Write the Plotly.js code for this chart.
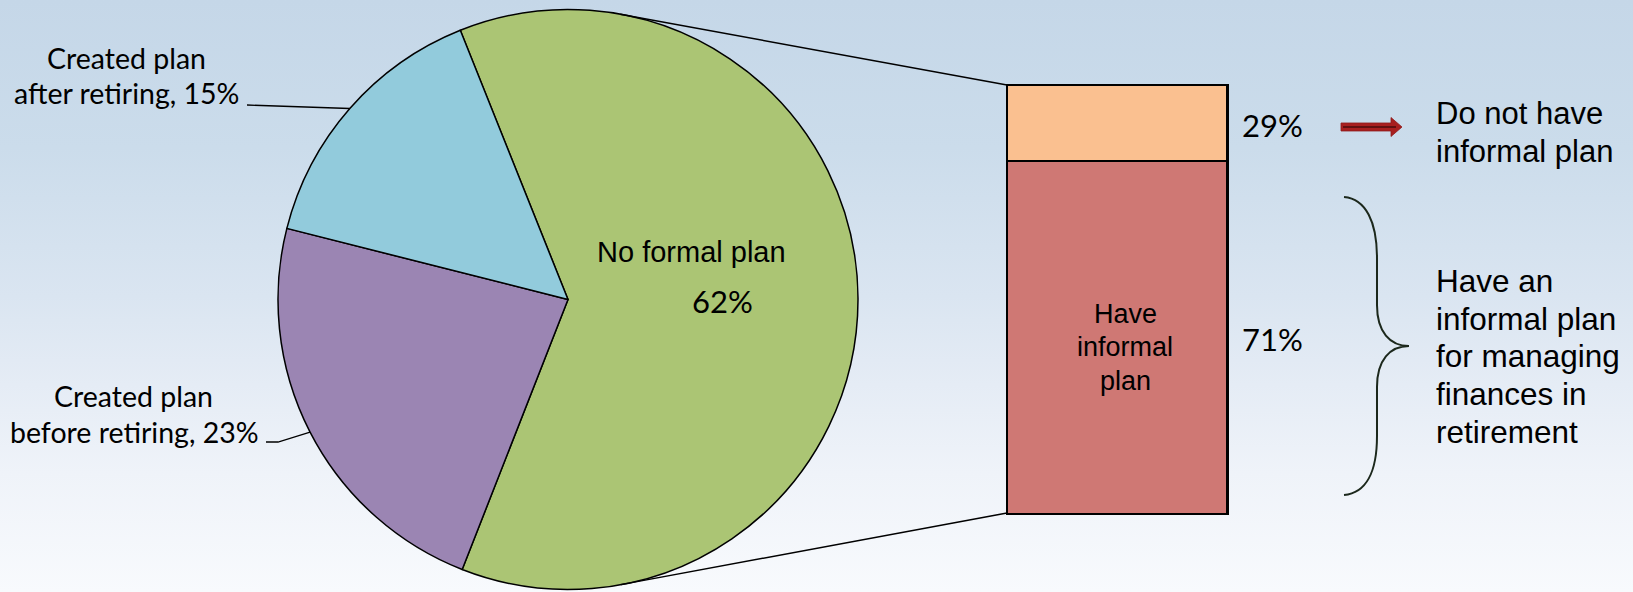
<!DOCTYPE html>
<html><head><meta charset="utf-8">
<script src="https://cdn.plot.ly/plotly-3.0.1.min.js"></script>
<style>
html,body{margin:0;padding:0;}
body{width:1633px;height:592px;overflow:hidden;
background:linear-gradient(to bottom,#C5D7E8 0%,#CBDCEB 25%,#DAE5F1 50%,#E5ECF5 65%,#EFF3F9 80%,#F8FAFD 100%);}
#chart{width:1633px;height:592px;}
</style></head><body><div id="chart"></div>
<script>
// ---- data ----
const pieLabels = ['No formal plan', 'Created plan before retiring', 'Created plan after retiring'];
const pieValues = [62, 23, 15];
const pieColors = ['#ABC574', '#9B85B3', '#92CBDC'];
const barLabels = ['Have informal plan', 'Do not have informal plan'];
const barValues = [71, 29];
const barColors = ['#CF7874', '#FAC090'];
const noteTop = ['Do not have', 'informal plan'];
const noteBottom = ['Have an', 'informal plan', 'for managing', 'finances in', 'retirement'];

// ---- geometry / style ----
const W = 1633, H = 592;
const px = x => x / W, py = y => 1 - y / H;
const cx = 568, cy = 299.5, R = 290, ROT = -21.8;
const bx0 = 1007, bx1 = 1227, byTop = 85, byBot = 513;
const logTop = 2, logBot = 1.16234;
const LIB = "'Liberation Sans', Arial, sans-serif";
const CAL = "Lato, sans-serif";

const total = pieValues.reduce((a, b) => a + b, 0);
const angles = [];
let cum = 0;
pieValues.forEach(v => { const a0 = ROT + cum / total * 360; cum += v; const a1 = ROT + cum / total * 360; angles.push([a0, a1, (a0 + a1) / 2]); });
const onCircle = (deg, r) => { const t = deg * Math.PI / 180; return [cx + r * Math.sin(t), cy - r * Math.cos(t)]; };
const yPix = v => byTop + (logTop - Math.log10(v)) / (logTop - logBot) * (byBot - byTop);

// tangent points from bar corners
function tangent(P, sign) {
  const dx = P[0] - cx, dy = P[1] - cy, d = Math.hypot(dx, dy);
  const dir = Math.atan2(dx, -dy) * 180 / Math.PI;
  const off = Math.acos(R / d) * 180 / Math.PI;
  return onCircle(dir + sign * off, R);
}
const tTop = tangent([bx0, byTop], -1);
const tBot = tangent([bx0, byBot], 1);

const pie = {
  type: 'pie', values: pieValues, labels: pieLabels, sort: false, direction: 'clockwise', rotation: ROT,
  marker: {colors: pieColors, line: {color: '#000', width: 1.5}}, textinfo: 'none', hoverinfo: 'none', showlegend: false,
  domain: {x: [px(cx - R), px(cx + R)], y: [py(cy + R), py(cy - R)]}
};
const bars = barValues.map((v, i) => ({
  type: 'bar', x: [0], y: [v], width: [1], name: barLabels[i], showlegend: false, hoverinfo: 'none',
  marker: {color: barColors[i], line: {color: '#000', width: 1.5}}
}));

const shapes = [];
const line = (p, q, w, c) => ({type: 'line', xref: 'paper', yref: 'paper', x0: px(p[0]), y0: py(p[1]), x1: px(q[0]), y1: py(q[1]), line: {color: c || '#000', width: w || 1.5}});
const path = (pts, opts) => Object.assign({type: 'path', xref: 'paper', yref: 'paper', path: pts}, opts);
const P = (x, y) => px(x).toFixed(5) + ',' + py(y).toFixed(5);

shapes.push(line(tTop, [bx0, byTop]));
shapes.push(line(tBot, [bx0, byBot]));
// leader lines
const eAfter = onCircle(angles[2][2], R), eBefore = onCircle(angles[1][2], R);
shapes.push(line([247, 105], eAfter, 1.3));
shapes.push(path('M' + P(266, 442) + 'L' + P(278, 442) + 'L' + P(eBefore[0], eBefore[1]), {line: {color: '#000', width: 1.3}}));
// arrow
shapes.push(path('M' + P(1341, 123) + 'L' + P(1391, 123) + 'L' + P(1391, 117.5) + 'L' + P(1402, 127) + 'L' + P(1391, 136.5) + 'L' + P(1391, 131) + 'L' + P(1341, 131) + 'Z',
  {fillcolor: '#A81F1F', line: {color: '#8E1A1A', width: 0.8}}));
shapes.push(line([1343, 127], [1396, 127], 1.5, '#4A0C0C'));
// brace
shapes.push(path('M' + P(1344, 197) + 'C' + P(1366, 199) + ' ' + P(1377, 222) + ' ' + P(1377, 258) +
  'L' + P(1377, 305) + 'C' + P(1377, 332) + ' ' + P(1390, 346) + ' ' + P(1409, 346) +
  'C' + P(1390, 346) + ' ' + P(1377, 360) + ' ' + P(1377, 387) +
  'L' + P(1377, 436) + 'C' + P(1377, 472) + ' ' + P(1366, 493) + ' ' + P(1344, 495),
  {line: {color: '#1C281C', width: 2}}));

const ann = [];
const A = (x, y, text, fam, size, xanchor, align) => ann.push({xref: 'paper', yref: 'paper', x: px(x), y: py(y), text: text,
  showarrow: false, xanchor: xanchor || 'center', yanchor: 'middle', align: align || 'center', font: {family: fam, size: size, color: '#000'}});

A(691, 252, pieLabels[0], LIB, 29);
A(722, 301, pieValues[0] + '%', CAL, 31);
A(126, 58, 'Created plan', CAL, 28.5);
A(126, 93, 'after retiring, ' + pieValues[2] + '%', CAL, 28.5);
A(133, 396, 'Created plan', CAL, 28.5);
A(134, 432, 'before retiring, ' + pieValues[1] + '%', CAL, 28.5);
barLabels[0].split(' ').forEach((w, i) => A(1125, 313.5 + i * 33.5, w, LIB, 27));
A(1240, (yPix(100) + yPix(barValues[0])) / 2 + 2, barValues[1] + '%', CAL, 31, 'left');
A(1240, (yPix(barValues[0]) + byBot) / 2 + 2, barValues[0] + '%', CAL, 31, 'left');
noteTop.forEach((t, i) => A(1434, 114 + i * 37.5, t, LIB, 31, 'left', 'left'));
noteBottom.forEach((t, i) => A(1434, 281 + i * 37.7, t, LIB, 31.5, 'left', 'left'));

const layout = {
  width: W, height: H, margin: {l: 0, r: 0, t: 0, b: 0}, autosize: false,
  paper_bgcolor: 'rgba(0,0,0,0)', plot_bgcolor: 'rgba(0,0,0,0)', barmode: 'stack', showlegend: false,
  xaxis: {domain: [px(bx0), px(bx1)], range: [-0.5, 0.5], showline: true, mirror: true, linecolor: '#000', linewidth: 1.5,
    showgrid: false, zeroline: false, showticklabels: false, ticks: '', fixedrange: true},
  yaxis: {domain: [py(byBot), py(byTop)], type: 'log', range: [logBot, logTop], showline: true, mirror: true, linecolor: '#000', linewidth: 1.5,
    showgrid: false, zeroline: false, showticklabels: false, ticks: '', fixedrange: true},
  shapes: shapes, annotations: ann
};
Plotly.newPlot('chart', [pie].concat(bars), layout, {displayModeBar: false, staticPlot: true});
</script></body></html>
